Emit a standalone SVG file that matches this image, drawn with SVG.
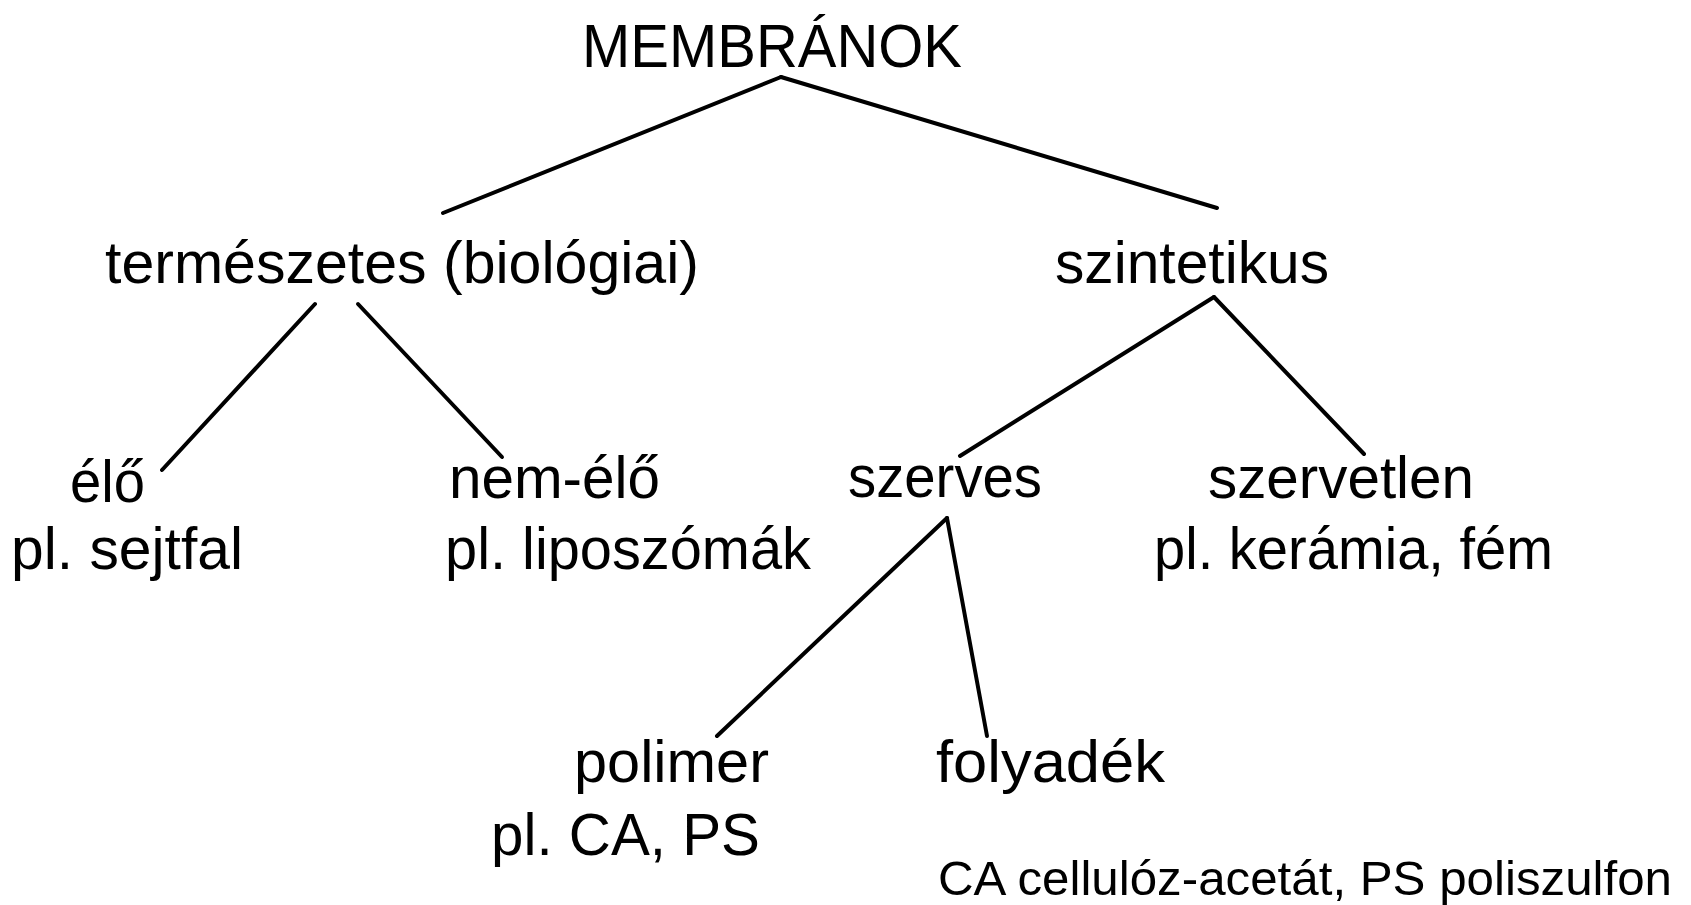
<svg xmlns="http://www.w3.org/2000/svg" width="1691" height="905" viewBox="0 0 1691 905">
<style>
.t{font-family:"Liberation Sans",Arial,sans-serif;font-size:60px;fill:#000}
.h{font-family:"Liberation Sans",Arial,sans-serif;font-size:62px;fill:#000}
.f{font-family:"Liberation Sans",Arial,sans-serif;font-size:48px;fill:#000}
.c line{stroke:#000;stroke-width:4;stroke-linecap:round}
</style>
<rect width="1691" height="905" fill="#fff"/>
<g class="c" id="connectors">
<line x1="781" y1="77" x2="443" y2="213"/>
<line x1="781" y1="77" x2="1217" y2="208"/>
<line x1="315" y1="304" x2="162" y2="470"/>
<line x1="358" y1="304" x2="502" y2="457"/>
<line x1="1214" y1="297" x2="960" y2="456"/>
<line x1="1214" y1="297" x2="1364" y2="454"/>
<line x1="947" y1="518" x2="717" y2="736"/>
<line x1="947" y1="518" x2="987" y2="736"/>
</g>
<g id="membranok"><text class="h" x="582" y="67" textLength="380" lengthAdjust="spacingAndGlyphs">MEMBRÁNOK</text></g>
<g id="termeszetes"><text class="t" x="105" y="283" textLength="594" lengthAdjust="spacingAndGlyphs">természetes (biológiai)</text></g>
<g id="szintetikus"><text class="t" x="1055" y="283" textLength="274" lengthAdjust="spacingAndGlyphs">szintetikus</text></g>
<g id="elo">
<text class="t" x="70" y="502" textLength="75" lengthAdjust="spacingAndGlyphs">élő</text>
<text class="t" x="11" y="569" textLength="232" lengthAdjust="spacingAndGlyphs">pl. sejtfal</text>
</g>
<g id="nem-elo">
<text class="t" x="449" y="498" textLength="211" lengthAdjust="spacingAndGlyphs">nem-élő</text>
<text class="t" x="445" y="569" textLength="366" lengthAdjust="spacingAndGlyphs">pl. liposzómák</text>
</g>
<g id="szerves"><text class="t" x="848" y="497" textLength="194" lengthAdjust="spacingAndGlyphs">szerves</text></g>
<g id="szervetlen">
<text class="t" x="1208" y="498" textLength="266" lengthAdjust="spacingAndGlyphs">szervetlen</text>
<text class="t" x="1154" y="569" textLength="399" lengthAdjust="spacingAndGlyphs">pl. kerámia, fém</text>
</g>
<g id="polimer">
<text class="t" x="574" y="782" textLength="195" lengthAdjust="spacingAndGlyphs">polimer</text>
<text class="t" x="491" y="855" textLength="269" lengthAdjust="spacingAndGlyphs">pl. CA, PS</text>
</g>
<g id="folyadek"><text class="t" x="936" y="782" textLength="229" lengthAdjust="spacingAndGlyphs">folyadék</text></g>
<g id="note"><text class="f" x="938" y="895" textLength="734" lengthAdjust="spacingAndGlyphs">CA cellulóz-acetát, PS poliszulfon</text></g>
</svg>
